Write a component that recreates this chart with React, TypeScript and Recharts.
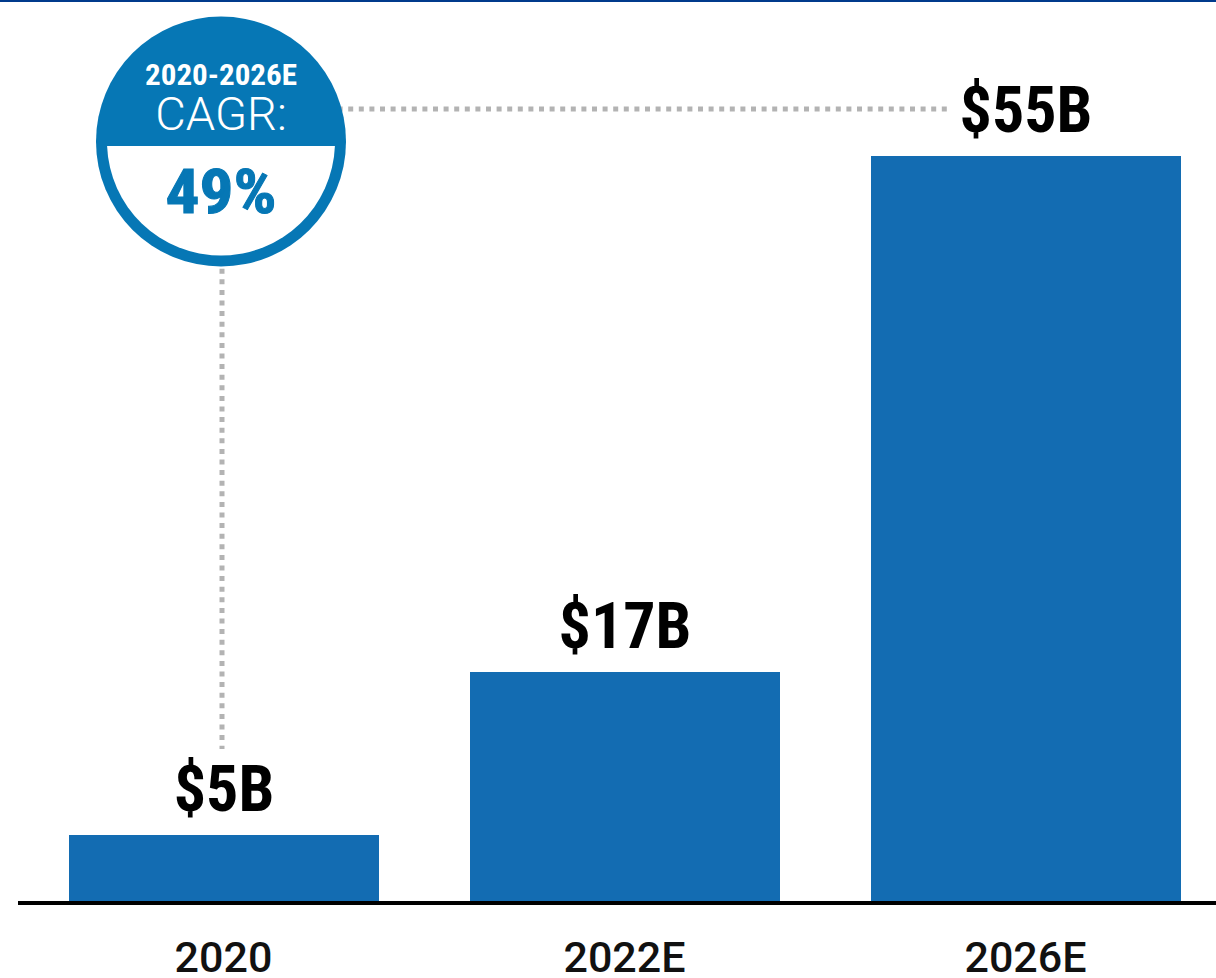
import React from 'react';
import { BarChart, Bar, XAxis, YAxis, LabelList } from 'recharts';

// market size, $B
const years = ['2020', '2022E', '2026E'];
const values = [5, 17, 55];
const valueLabels = ['$5B', '$17B', '$55B'];
const cagrRange = '2020-2026E';
const cagrValue = '49%';

const BAR_BLUE = '#136cb2';
const BADGE_BLUE = '#0677b5';
const NARROW = "'Liberation Sans Narrow', 'Roboto Condensed', 'DejaVu Sans Condensed', sans-serif";

const W = 1226;
const H = 978;

const data = years.map((y, i) => ({ year: y, value: values[i], label: valueLabels[i] }));

const ValueLabel = (props: any) => {
    const { x, y, width, index } = props;
    return (
        <text
            x={x + width / 2}
            y={y - 24}
            textAnchor="middle"
            fontFamily={NARROW}
            fontWeight={700}
            fontSize={64}
            fill="#000"
        >
            {valueLabels[index]}
        </text>
    );
};

// CAGR badge + dotted leader lines, drawn over the chart
const Badge = () => {
    const cx = 221;
    const cy = 141.5;
    const r = 125;
    const ri = 114;
    const split = 146;
    const hw = Math.sqrt(ri * ri - (split - cy) * (split - cy));
    return (
        <svg width={1216} height={H} style={{ position: 'absolute', left: 0, top: 0, pointerEvents: 'none' }}>
            <line x1={cx} y1={109} x2={948} y2={109} stroke="#b3b3b3" strokeWidth={5} strokeDasharray="5 5.6" />
            <line x1={222} y1={cy} x2={222} y2={749} stroke="#b3b3b3" strokeWidth={5} strokeDasharray="5 5.6" />
            <circle cx={cx} cy={cy} r={r} fill={BADGE_BLUE} />
            <path d={`M ${cx - hw} ${split} A ${ri} ${ri} 0 0 0 ${cx + hw} ${split} Z`} fill="#fff" />
            <text x={cx} y={85} textAnchor="middle" fontFamily={NARROW} fontWeight={700} fontSize={29}
                fill="#fff" textLength={152} lengthAdjust="spacingAndGlyphs">{cagrRange}</text>
            <text x={cx} y={130} textAnchor="middle" fontFamily="Roboto, sans-serif" fontWeight={300} fontSize={47}
                fill="#fff">CAGR:</text>
            <text x={cx} y={213} textAnchor="middle" fontFamily={NARROW} fontWeight={700} fontSize={62}
                fill={BADGE_BLUE} stroke={BADGE_BLUE} strokeWidth={1}
                textLength={111} lengthAdjust="spacingAndGlyphs">{cagrValue}</text>
        </svg>
    );
};

export default function App() {
    return (
        <div style={{ position: 'fixed', left: 0, top: 0, width: 1216, height: H, overflow: 'hidden', background: '#fff' }}>
            <div style={{ position: 'absolute', left: 0, top: 0, width: 1216, height: 2, background: '#003a8c', zIndex: 2 }} />
            <BarChart width={W} height={H} data={data} margin={{ top: 88, right: 0, left: 18, bottom: 0 }} barSize={310}>
                <YAxis hide domain={[0, 60]} />
                <XAxis
                    dataKey="year"
                    height={75}
                    padding={{ left: 5, right: 0 }}
                    axisLine={{ stroke: '#000', strokeWidth: 4 }}
                    tickLine={false}
                    tickSize={0}
                    tickMargin={38}
                    tick={{ fontSize: 43, fontWeight: 500, fill: '#111', fontFamily: 'Roboto, sans-serif' }}
                />
                <Bar dataKey="value" fill={BAR_BLUE} isAnimationActive={false}>
                    <LabelList dataKey="label" content={<ValueLabel />} />
                </Bar>
            </BarChart>
            <Badge />
        </div>
    );
}
